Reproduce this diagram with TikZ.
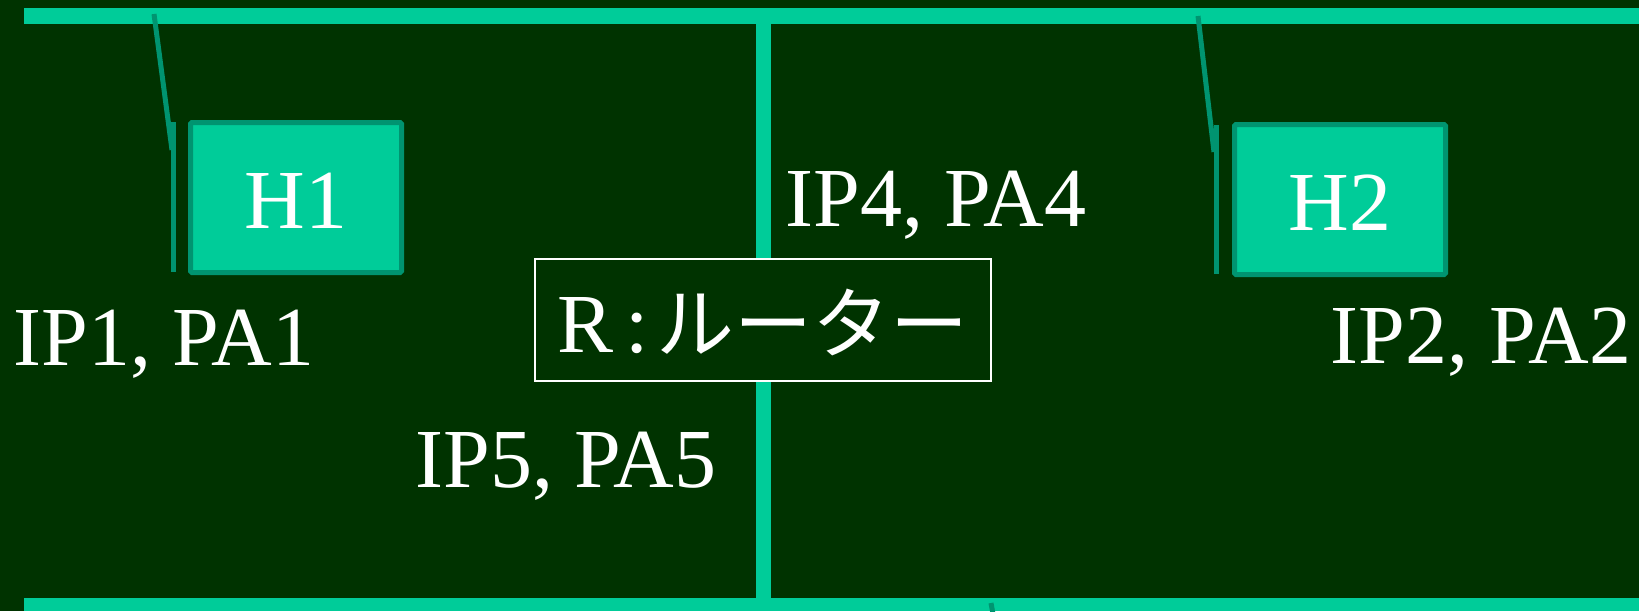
\documentclass[tikz,border=0pt]{standalone}
\usepackage{fontspec}
\setmainfont{Liberation Serif}
\newfontfamily\cjk{Noto Sans CJK JP}
\definecolor{bgc}{HTML}{003300}
\definecolor{barc}{HTML}{00CC99}
\definecolor{linkc}{HTML}{009470}
\begin{document}
\begin{tikzpicture}[x=1pt,y=-1pt,
  lbl/.style={text=white,inner sep=0pt,anchor=base west,font=\fontsize{84}{84}\selectfont},
  hostbox/.style={draw=linkc,line width=5pt,fill=barc,rounded corners=1.5pt,
    minimum height=150pt,inner sep=0pt,text=white,text height=61pt,text depth=0pt,
    font=\fontsize{84}{84}\selectfont},
  wire/.style={draw=linkc,line width=5pt},
  busline/.style={fill=barc},
  routerbox/.style={draw=white,line width=2pt,fill=bgc,minimum width=456pt,minimum height=122pt,
    inner sep=0pt,text=white,text height=64pt,text depth=0pt,font=\fontsize{84}{84}\selectfont}]
\useasboundingbox (0,0) rectangle (1639,611);
\fill[bgc] (0,0) rectangle (1639,611);
% buses
\fill[busline] (24,8) rectangle (1639,24);
\fill[busline] (24,598) rectangle (1639,611);
\fill[busline] (756,24) rectangle (771,598);
% host wires
\coordinate (t1) at (154,14);
\coordinate (k1) at (172,150);
\coordinate (v1a) at (173,122);
\coordinate (v1b) at (173,272);
\coordinate (t2) at (1198,16);
\coordinate (k2) at (1214,152);
\coordinate (v2a) at (1216,125);
\coordinate (v2b) at (1216,274);
\coordinate (s1) at (991,603);
\coordinate (s2) at (993,614);
\draw[wire] (t1) -- (k1);
\draw[wire] (v1a) -- (v1b);
\draw[wire] (t2) -- (k2);
\draw[wire] (v2a) -- (v2b);
\draw[wire] (s1) -- (s2);
% hosts
\node[hostbox,minimum width=211pt] (h1) at (296,197.5) {H1};
\node[hostbox,minimum width=211pt] (h2) at (1340,199.5) {H2};
% router
\node[routerbox] (r) at (763,320) {R\hspace{11.5pt}:\hspace{8pt}{\cjk\fontsize{78}{78}\selectfont ルーター}};
% labels
\node[lbl] (ip1) at (13.5,365) {IP1, PA1};
\node[lbl] (ip2) at (1330.5,363) {IP2, PA2};
\node[lbl] (ip4) at (785.5,226) {IP4, PA4};
\node[lbl] (ip5) at (415.5,487) {IP5, PA5};
\end{tikzpicture}
\end{document}
